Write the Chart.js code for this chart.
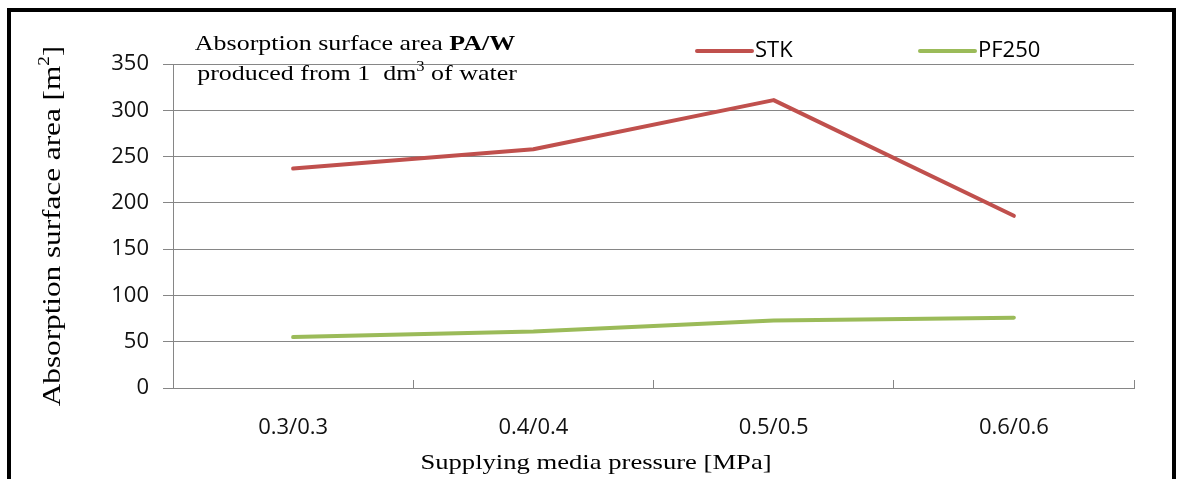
<!DOCTYPE html>
<html>
<head>
<meta charset="utf-8">
<script src="https://cdn.jsdelivr.net/npm/chart.js@4"></script>
<style>
    html, body { margin: 0; padding: 0; background: #fff; }
    .wrap { position: relative; width: 1177px; height: 479px; overflow: hidden; }
    .frame {
        position: absolute; left: 7px; top: 8px; width: 1161px; height: 500px;
        border: 4px solid #000; pointer-events: none;
    }
</style>
</head>
<body>
<div class="wrap">
    <canvas id="absorptionChart"></canvas>
    <div class="frame"></div>
</div>
<script>
// Chart data
const categories = ['0.3/0.3', '0.4/0.4', '0.5/0.5', '0.6/0.6'];
const stkValues = [237, 258, 311, 186];
const pf250Values = [55, 61, 73, 76];
const yMin = 0;
const yMax = 350;
const yStep = 50;

const serif = '"Liberation Serif", "Times New Roman", serif';
const sans = '"Open Sans", "DejaVu Sans", sans-serif';

// draws text stretched along its direction, like the original picture
function stretchedText(ctx, parts, x, y, stretch, align) {
    let width = 0;
    parts.forEach(p => { ctx.font = p.font; width += ctx.measureText(p.text).width; });
    ctx.save();
    ctx.translate(x, y);
    ctx.scale(stretch, 1);
    let cx = align === 'center' ? -width / 2 : 0;
    ctx.textBaseline = 'alphabetic';
    ctx.textAlign = 'left';
    parts.forEach(p => {
        ctx.font = p.font;
        ctx.fillText(p.text, cx, p.dy || 0);
        cx += ctx.measureText(p.text).width;
    });
    ctx.restore();
}

const annotations = {
    id: 'annotations',
    afterDraw(chart) {
        const ctx = chart.ctx;
        ctx.save();
        ctx.fillStyle = '#000';

        // title in the top left of the plot
        stretchedText(ctx, [
            { text: 'Absorption surface area ', font: '22px ' + serif },
            { text: 'PA/W', font: 'bold 22px ' + serif }
        ], 355, 50, 1.18, 'center');
        stretchedText(ctx, [
            { text: 'produced from 1  dm', font: '22px ' + serif },
            { text: '3', font: '14px ' + serif, dy: -9 },
            { text: ' of water', font: '22px ' + serif }
        ], 357, 80, 1.18, 'center');

        // x axis title
        stretchedText(ctx, [
            { text: 'Supplying media pressure [MPa]', font: '22px ' + serif }
        ], 596, 469, 1.21, 'center');

        // y axis title
        ctx.save();
        ctx.translate(60, 226);
        ctx.rotate(-Math.PI / 2);
        stretchedText(ctx, [
            { text: 'Absorption surface area [m', font: '26px ' + serif },
            { text: '2', font: '16px ' + serif, dy: -11 },
            { text: ']', font: '26px ' + serif }
        ], 0, 0, 1.2, 'center');
        ctx.restore();

        // legend
        const legendX = [697, 920];
        chart.data.datasets.forEach((ds, i) => {
            const x = legendX[i];
            ctx.strokeStyle = ds.borderColor;
            ctx.lineWidth = 4;
            ctx.lineCap = 'round';
            ctx.beginPath();
            ctx.moveTo(x, 51);
            ctx.lineTo(x + 55, 51);
            ctx.stroke();
            ctx.font = '22px ' + sans;
            ctx.textBaseline = 'middle';
            ctx.textAlign = 'left';
            ctx.fillStyle = '#000';
            ctx.fillText(ds.label, x + 58, 51);
        });
        ctx.restore();
    }
};

const ctx = document.getElementById('absorptionChart').getContext('2d');
new Chart(ctx, {
    type: 'line',
    data: {
        labels: categories,
        datasets: [
            {
                label: 'STK',
                data: stkValues,
                borderColor: '#C0504D',
                backgroundColor: '#C0504D',
                borderWidth: 4,
                pointRadius: 0,
                tension: 0,
                borderCapStyle: 'round',
                borderJoinStyle: 'round'
            },
            {
                label: 'PF250',
                data: pf250Values,
                borderColor: '#9BBB59',
                backgroundColor: '#9BBB59',
                borderWidth: 4,
                pointRadius: 0,
                tension: 0,
                borderCapStyle: 'round',
                borderJoinStyle: 'round'
            }
        ]
    },
    options: {
        responsive: true,
        maintainAspectRatio: false,
        animation: false,
        layout: {
            padding: { left: 0, top: 64, right: 43, bottom: 0 }
        },
        plugins: {
            legend: { display: false },
            title: { display: false },
            tooltip: { enabled: false }
        },
        scales: {
            y: {
                min: yMin,
                max: yMax,
                afterFit: scale => { scale.width = 173; },
                ticks: {
                    stepSize: yStep,
                    padding: 14,
                    color: '#111',
                    font: { family: sans, size: 22 }
                },
                grid: {
                    color: '#868686',
                    lineWidth: 1,
                    tickLength: 10
                },
                border: { color: '#868686', width: 1 }
            },
            x: {
                offset: true,
                afterFit: scale => { scale.height = 91; },
                ticks: {
                    padding: 35,
                    color: '#111',
                    font: { family: sans, size: 22 }
                },
                grid: {
                    offset: true,
                    drawOnChartArea: false,
                    color: '#868686',
                    tickLength: -8
                },
                border: { color: '#868686', width: 1 }
            }
        }
    },
    plugins: [annotations]
});
</script>
</body>
</html>
